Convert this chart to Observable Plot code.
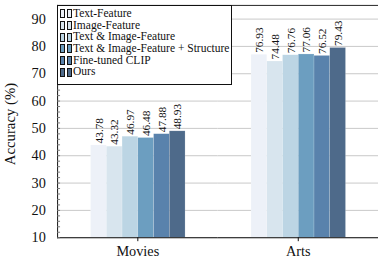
<!DOCTYPE html>
<html>
<head>
<meta charset="utf-8">
<script src="https://cdn.jsdelivr.net/npm/d3@7"></script>
<script src="https://cdn.jsdelivr.net/npm/@observablehq/plot@0.6"></script>
<style>
  html, body { margin: 0; padding: 0; background: #fff; overflow: hidden; }
  #wrap { position: relative; width: 378px; height: 263px; overflow: hidden; font-family: 'Liberation Serif', serif; }
  #chart svg text { font-family: 'Liberation Serif', serif !important; }
  #legend { position: absolute; left: 57px; top: 5px; width: 173px; height: 76px; border: 1px solid #111; background: #fff; font-size: 11.5px; padding-top: 2px; box-sizing: content-box; font-family: 'Liberation Serif', serif; }
  .row { height: 11.7px; line-height: 11.7px; display: flex; align-items: center; white-space: nowrap; color: #111; }
  .sw { display: inline-block; width: 3px; height: 7px; border: 1px solid #111; margin-left: 2px; }
  .lab { margin-left: 1px; }
</style>
</head>
<body>
<div id="wrap"><div id="chart"></div><div id="legend"></div></div>
<script>
const groups = ["Movies", "Arts"];
const series = ["Text-Feature", "Image-Feature", "Text & Image-Feature", "Text & Image-Feature + Structure", "Fine-tuned CLIP", "Ours"];
const moviesValues = [43.78, 43.32, 46.97, 46.48, 47.88, 48.93];
const artsValues = [76.93, 74.48, 76.76, 77.06, 76.52, 79.43];
const colors = ["#edf1f8", "#d8e5ee", "#bcd5e4", "#6c9ec0", "#5982ac", "#4e6a8a"];
const yTicks = [10, 20, 30, 40, 50, 60, 70, 80, 90];
const yMinorTicks = d3.range(10, 95, 2);
const yLabel = "Accuracy (%)";

const data = [];
groups.forEach((g, gi) => {
  const vals = gi === 0 ? moviesValues : artsValues;
  series.forEach((s, i) => data.push({group: g, series: s, value: vals[i]}));
});

const font = "'Liberation Serif', serif";

const chart = Plot.plot({
  width: 384,
  height: 263,
  marginLeft: 57,
  marginRight: 0,
  marginTop: 5,
  marginBottom: 22,
  style: {fontFamily: font, background: "white", color: "#111"},
  fx: {domain: groups, paddingInner: 0, paddingOuter: 0, label: null},
  x: {domain: series, paddingInner: 0, paddingOuter: 1.9, axis: null},
  y: {domain: [10, 95], axis: null},
  color: {domain: series, range: colors},
  marks: [
    Plot.gridY(yTicks, {stroke: "#c8c8c8", strokeOpacity: 1}),
    Plot.barY(data, {fx: "group", x: "series", y1: 10, y2: "value", fill: "series", stroke: "white", strokeOpacity: 0.35, strokeWidth: 0.5}),
    Plot.text(data, {fx: "group", x: "series", y: "value", text: d => d.value.toFixed(2), rotate: -90, textAnchor: "start", dy: -2, fontSize: 11.5, fill: "#111"}),
    Plot.ruleY([10], {stroke: "#111"}),
    Plot.ruleY([95], {stroke: "#222"}),
    Plot.frame({anchor: "left", facetAnchor: "left", stroke: "#111"}),
    Plot.axisY(yMinorTicks, {tickSize: -3, tickFormat: () => "", stroke: "#777", label: null}),
    Plot.axisY(yTicks, {tickSize: 0, tickPadding: 12, fontSize: 14.5, label: null}),
    Plot.axisFx({anchor: "bottom", tickSize: 4, tickPadding: 4, fontSize: 14.5, label: null})
  ]
});

document.getElementById("chart").appendChild(chart);

const svg = d3.select(chart);
svg.selectAll("text").style("font-family", font);
svg.append("text")
  .attr("transform", "translate(15,126) rotate(-90)")
  .attr("text-anchor", "middle")
  .attr("font-size", 15)
  .style("font-family", font)
  .attr("fill", "#111")
  .text(yLabel);

const legend = document.getElementById("legend");
series.forEach((s, i) => {
  const row = document.createElement("div");
  row.className = "row";
  row.innerHTML = `<span class="sw" style="background:${colors[i]}"></span><span class="sw" style="background:${colors[i]}"></span><span class="lab"></span>`;
  row.querySelector(".lab").textContent = s;
  legend.appendChild(row);
});
</script>
</body>
</html>
